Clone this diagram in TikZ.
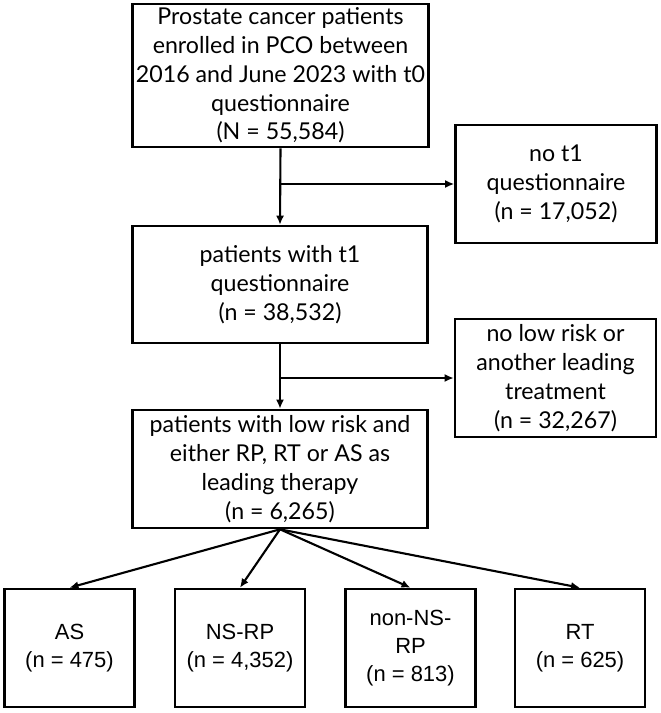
\documentclass[tikz,border=0pt]{standalone}
\usepackage{fontspec}
\setmainfont{Lato}
\newfontfamily\armfont{Liberation Sans}
\usetikzlibrary{arrows.meta}

\begin{document}
\begin{tikzpicture}[
        x=0.02cm, y=-0.02cm,
        box/.style={rectangle, draw, line width=1.5pt, align=center, inner sep=2pt, font=\fontsize{13.2}{16.4}\selectfont},
        mainbox/.style={box, minimum width=5.9cm},
        sidebox/.style={box, minimum width=4.02cm, minimum height=2.36cm},
        armbox/.style={box, minimum width=2.6cm, minimum height=2.36cm, font=\armfont\fontsize{12.5}{16}\selectfont},
        arrow/.style={-{Latex[length=1.8mm,width=1.6mm]}, line width=1.2pt}
    ]
        \useasboundingbox (0,0) rectangle (661,713);

        % Main selection chain
        \node[mainbox, minimum height=2.86cm] (cohort) at (280.5, 75.5) {Prostate cancer patients\\enrolled in PCO between\\2016 and June 2023 with t0\\questionnaire\\(N = 55,584)};

        \node[mainbox, minimum height=2.34cm] (tone) at (280, 284.5) {patients with t1\\questionnaire\\(n = 38,532)};

        \node[mainbox, minimum height=2.36cm] (lowrisk) at (280, 469) {patients with low risk and\\either RP, RT or AS as\\leading therapy\\(n = 6,265)};

        % Exclusions
        \node[sidebox] (notone) at (556, 184) {no t1\\questionnaire\\(n = 17,052)};

        \node[sidebox] (nolow) at (555.5, 378) {no low risk or\\another leading\\treatment\\(n = 32,267)};

        % Treatment arms
        \node[armbox] (as) at (69.5, 648) {AS\\(n = 475)};
        \node[armbox] (nsrp) at (240, 648) {NS-RP\\(n = 4,352)};
        \node[armbox] (nonnsrp) at (410.5, 648) {non-NS-\\RP\\(n = 813)};
        \node[armbox] (rt) at (580, 648) {RT\\(n = 625)};

        % Vertical flow
        \draw[arrow] (cohort.south) -- (tone.north);
        \draw[arrow] (tone.south) -- (lowrisk.north);

        % Side exits
        \coordinate (split1) at (cohort.south |- notone.west);
        \coordinate (split2) at (tone.south |- nolow.west);
        \draw[arrow] (split1) -- (notone.west);
        \draw[arrow] (split2) -- (nolow.west);

        % Fan out to arms
        \foreach \arm in {as, nsrp, nonnsrp, rt}
            \draw[arrow] (lowrisk.south) -- (\arm.north);

    \end{tikzpicture}
\end{document}
